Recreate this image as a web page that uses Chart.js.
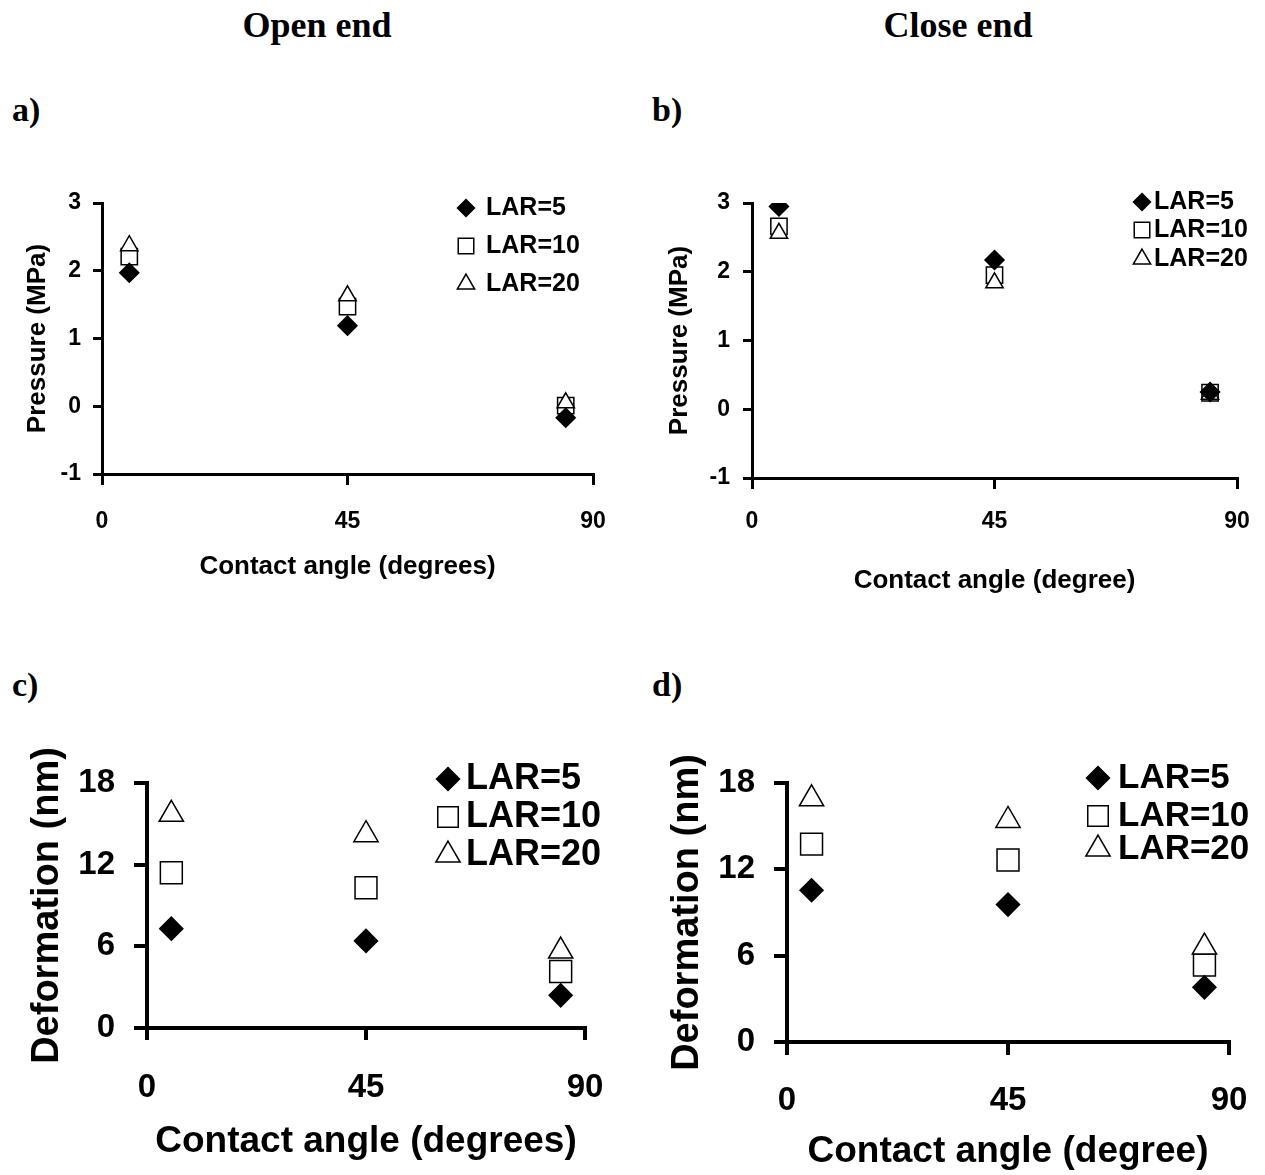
<!DOCTYPE html>
<html>
<head>
<meta charset="utf-8">
<script src="https://cdn.jsdelivr.net/npm/chart.js@4/dist/chart.umd.min.js"></script>
<style>
  html, body { margin: 0; padding: 0; background: #fff; }
  body { width: 1265px; height: 1175px; position: relative; overflow: hidden; }
  canvas { position: absolute; }
  .lbl { position: absolute; font-family: "Liberation Serif", "Times New Roman", serif; font-weight: bold; color: #000; line-height: 1; white-space: nowrap; }
  .ttl { font-size: 36px; transform: translate(-50%, -50%); }
  .pl { font-size: 34px; transform: translate(0, -50%); }
</style>
</head>
<body>
<div class="lbl ttl" style="left:317px; top:25px;">Open end</div>
<div class="lbl ttl" style="left:958px; top:25px;">Close end</div>
<div class="lbl pl" style="left:12px; top:110px;">a)</div>
<div class="lbl pl" style="left:652px; top:110px;">b)</div>
<div class="lbl pl" style="left:12px; top:685px;">c)</div>
<div class="lbl pl" style="left:652px; top:685px;">d)</div>

<canvas id="pa" width="615" height="414" style="left:0px; top:170px;"></canvas>
<canvas id="pb" width="619" height="428" style="left:640px; top:170px;"></canvas>
<canvas id="pc" width="610" height="428" style="left:0px; top:740px;"></canvas>
<canvas id="pd" width="614" height="435" style="left:640px; top:740px;"></canvas>

<script>
// ---- data ----
const angles = [5, 45, 85];
const seriesLabels = ['LAR=5', 'LAR=10', 'LAR=20'];
const xTickValues = [0, 45, 90];
const pressureTickValues = [-1, 0, 1, 2, 3];
const deformationTickValues = [0, 6, 12, 18];

const pressureOpen_LAR5  = [1.97, 1.19, -0.17];
const pressureOpen_LAR10 = [2.21, 1.47, 0.01];
const pressureOpen_LAR20 = [2.37, 1.63, 0.05];

const pressureClose_LAR5  = [2.95, 2.17, 0.25];
const pressureClose_LAR10 = [2.66, 1.95, 0.24];
const pressureClose_LAR20 = [2.56, 1.84, 0.22];

const deformOpen_LAR5  = [7.3, 6.4, 2.4];
const deformOpen_LAR10 = [11.4, 10.3, 4.15];
const deformOpen_LAR20 = [15.7, 14.2, 5.65];

const deformClose_LAR5  = [10.55, 9.55, 3.8];
const deformClose_LAR10 = [13.75, 12.65, 5.35];
const deformClose_LAR20 = [16.9, 15.4, 6.6];

// ---- styling ----
const FONT = '"Liberation Sans", Arial, Helvetica, sans-serif';
const pointStyles = ['rectRot', 'rect', 'triangle'];
const fills = ['#000', '#fff', '#fff'];
const drawOrder = [0, 2, 1]; // diamond on top, triangle over square

function drawMarker(ctx, style, r, x, y) {
  if (Chart.helpers && Chart.helpers.drawPoint) {
    Chart.helpers.drawPoint(ctx, {pointStyle: style, radius: r, rotation: 0, borderWidth: ctx.lineWidth}, x, y);
    return;
  }
  ctx.beginPath();
  if (style === 'rectRot') { ctx.moveTo(x - r, y); ctx.lineTo(x, y - r); ctx.lineTo(x + r, y); ctx.lineTo(x, y + r); ctx.closePath(); }
  else if (style === 'rect') { const s = r * Math.SQRT1_2; ctx.rect(x - s, y - s, 2 * s, 2 * s); }
  else { ctx.moveTo(x, y - r); ctx.lineTo(x + r * 0.866, y + r / 2); ctx.lineTo(x - r * 0.866, y + r / 2); ctx.closePath(); }
  ctx.fill(); ctx.stroke();
}

const panelLegend = {
  id: 'panelLegend',
  afterDatasetsDraw(chart, args, opts) {
    const ctx = chart.ctx;
    ctx.save();
    chart.data.datasets.forEach((ds, i) => {
      const y = opts.rows[i];
      ctx.fillStyle = ds.backgroundColor;
      ctx.strokeStyle = ds.borderColor;
      ctx.lineWidth = ds.borderWidth;
      drawMarker(ctx, ds.pointStyle, opts.radius[i], opts.markerX, y);
      ctx.fillStyle = '#000';
      ctx.font = 'bold ' + opts.fontSize + 'px ' + FONT;
      ctx.textAlign = 'left';
      ctx.textBaseline = 'middle';
      ctx.fillText(ds.label, opts.textX, y);
    });
    ctx.restore();
  }
};

function makePanel(id, p) {
  const datasets = p.series.map((vals, i) => ({
    label: seriesLabels[i],
    data: angles.map((a, j) => ({x: a, y: vals[j]})),
    pointStyle: pointStyles[i],
    pointRadius: p.radius[i],
    backgroundColor: fills[i],
    borderColor: '#000',
    borderWidth: p.markerBorder,
    order: drawOrder[i],
    showLine: false
  }));
  // x tick label centre sits (xLabelGap) px below the tick mark; done through line height
  const xLine = (2 * p.xLabelGap) / p.tickSize;
  return new Chart(document.getElementById(id), {
    type: 'scatter',
    data: {datasets},
    options: {
      responsive: false,
      animation: false,
      events: [],
      layout: {padding: {top: p.padTop, right: p.padRight, bottom: 0, left: 0}},
      plugins: {
        legend: {display: false},
        tooltip: {enabled: false},
        panelLegend: {markerX: p.legend.markerX, textX: p.legend.textX, rows: p.legend.rows, radius: p.legend.radius, fontSize: p.legend.fontSize}
      },
      scales: {
        x: {
          type: 'linear', min: 0, max: 90,
          afterBuildTicks: s => { s.ticks = xTickValues.map(v => ({value: v})); },
          afterFit: s => { s.height = p.xHeight; },
          grid: {display: true, drawOnChartArea: false, drawTicks: true, tickLength: p.xTickLen, lineWidth: p.axisWidth, color: '#000'},
          border: {display: true, color: '#000', width: p.axisWidth},
          ticks: {color: '#000', padding: 0, font: {family: FONT, size: p.tickSize, weight: 'bold', lineHeight: xLine}, maxRotation: 0},
          title: {display: true, text: p.xTitle, color: '#000', font: {family: FONT, size: p.xTitleSize, weight: 'bold'}, padding: {top: 0, bottom: p.xTitlePadBottom}}
        },
        y: {
          type: 'linear', min: p.yMin, max: p.yMax,
          afterBuildTicks: s => { s.ticks = p.yTicks.map(v => ({value: v})); },
          afterFit: s => { s.width = p.yWidth; },
          grid: {display: true, drawOnChartArea: false, drawTicks: true, tickLength: p.yTickLen, lineWidth: p.axisWidth, color: '#000'},
          border: {display: true, color: '#000', width: p.axisWidth},
          ticks: {color: '#000', padding: p.yTickPad, font: {family: FONT, size: p.tickSize, weight: 'bold'}},
          title: {display: true, text: p.yTitle, color: '#000', font: {family: FONT, size: p.yTitleSize, weight: 'bold'}, padding: {top: p.yTitlePadTop, bottom: 0}}
        }
      }
    },
    plugins: [panelLegend]
  });
}

const smallMarkers = [9.5, 11.5, 10];
const bigMarkers = [11.5, 15.5, 14];

makePanel('pa', {
  series: [pressureOpen_LAR5, pressureOpen_LAR10, pressureOpen_LAR20],
  radius: smallMarkers, markerBorder: 1.5,
  padTop: 33, padRight: 22, xHeight: 110, yWidth: 102,
  yMin: -1, yMax: 3, yTicks: pressureTickValues,
  axisWidth: 3, xTickLen: 11, yTickLen: 9, xLabelGap: 37, yTickPad: 12,
  tickSize: 23, xTitle: 'Contact angle (degrees)', xTitleSize: 26, xTitlePadBottom: 2,
  yTitle: 'Pressure (MPa)', yTitleSize: 26, yTitlePadTop: 22,
  legend: {markerX: 466, textX: 486, rows: [38, 76, 114], radius: [8.5, 11, 10], fontSize: 25}
});

makePanel('pb', {
  series: [pressureClose_LAR5, pressureClose_LAR10, pressureClose_LAR20],
  radius: smallMarkers, markerBorder: 1.5,
  padTop: 33, padRight: 22, xHeight: 120, yWidth: 112,
  yMin: -1, yMax: 3, yTicks: pressureTickValues,
  axisWidth: 3, xTickLen: 11, yTickLen: 9, xLabelGap: 33, yTickPad: 13,
  tickSize: 23, xTitle: 'Contact angle (degree)', xTitleSize: 26, xTitlePadBottom: 2,
  yTitle: 'Pressure (MPa)', yTitleSize: 26, yTitlePadTop: 24,
  legend: {markerX: 502, textX: 514, rows: [32, 60, 89], radius: [8.5, 11, 10], fontSize: 25}
});

makePanel('pc', {
  series: [deformOpen_LAR5, deformOpen_LAR10, deformOpen_LAR20],
  radius: bigMarkers, markerBorder: 1.5,
  padTop: 43, padRight: 25, xHeight: 140, yWidth: 147,
  yMin: 0, yMax: 18, yTicks: deformationTickValues,
  axisWidth: 4, xTickLen: 12, yTickLen: 13, xLabelGap: 48, yTickPad: 19,
  tickSize: 33, xTitle: 'Contact angle (degrees)', xTitleSize: 37, xTitlePadBottom: 4,
  yTitle: 'Deformation (nm)', yTitleSize: 38, yTitlePadTop: 25,
  legend: {markerX: 448, textX: 466, rows: [39, 77, 115], radius: [11.5, 14.5, 14], fontSize: 36}
});

makePanel('pd', {
  series: [deformClose_LAR5, deformClose_LAR10, deformClose_LAR20],
  radius: bigMarkers, markerBorder: 1.5,
  padTop: 43, padRight: 25, xHeight: 133, yWidth: 147,
  yMin: 0, yMax: 18, yTicks: deformationTickValues,
  axisWidth: 4, xTickLen: 13, yTickLen: 13, xLabelGap: 46, yTickPad: 19,
  tickSize: 33, xTitle: 'Contact angle (degree)', xTitleSize: 37, xTitlePadBottom: 1,
  yTitle: 'Deformation (nm)', yTitleSize: 38, yTitlePadTop: 25,
  legend: {markerX: 458, textX: 478, rows: [38, 76, 109], radius: [11.5, 14.5, 14], fontSize: 35}
});
</script>
</body>
</html>
